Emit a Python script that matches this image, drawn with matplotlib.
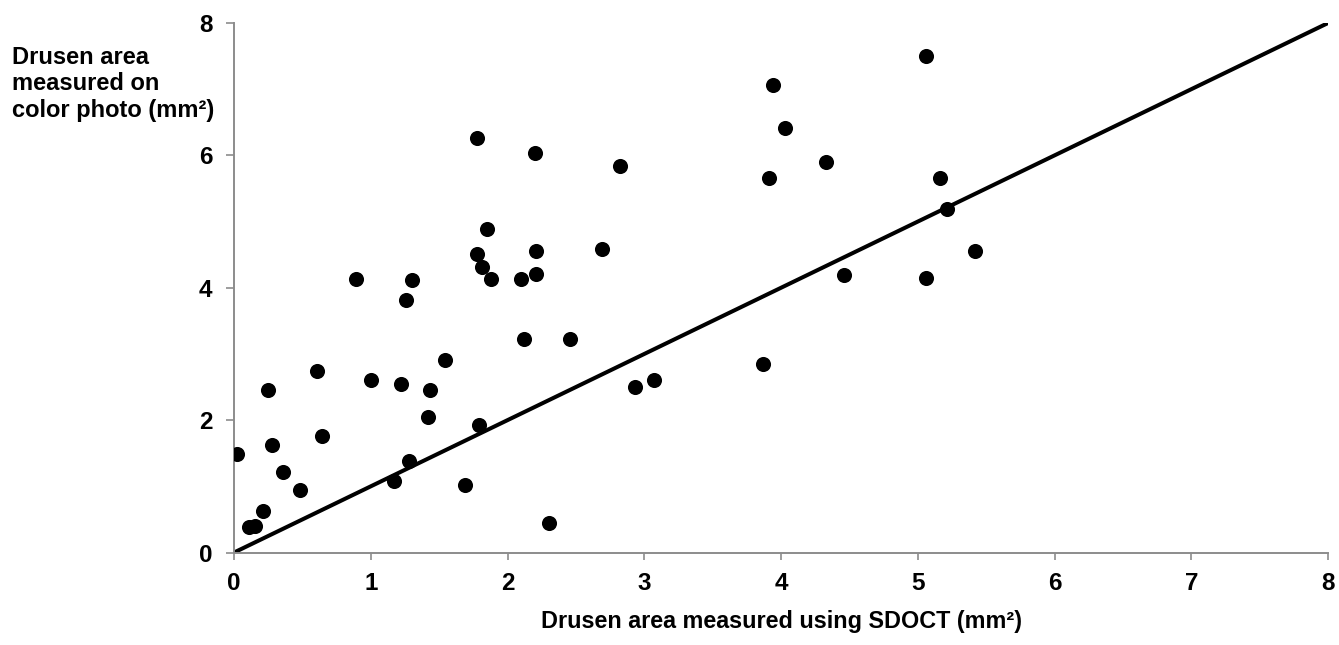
import matplotlib
matplotlib.use("Agg")
import matplotlib.pyplot as plt

# Drusen area: SDOCT (x) vs color photo (y), mm^2
sdoct = [0.02, 0.11, 0.15, 0.21, 0.25, 0.28, 0.36, 0.48, 0.61, 0.64,
         0.89, 1.00, 1.17, 1.22, 1.26, 1.28, 1.30, 1.42, 1.43, 1.54,
         1.69, 1.78, 1.78, 1.79, 1.81, 1.85, 1.88, 2.10, 2.12, 2.20,
         2.21, 2.21, 2.30, 2.46, 2.69, 2.82, 2.93, 3.07, 3.87, 3.91,
         3.94, 4.03, 4.33, 4.46, 5.06, 5.06, 5.16, 5.21, 5.42]
photo = [1.49, 0.39, 0.40, 0.62, 2.45, 1.63, 1.21, 0.94, 2.74, 1.76,
         4.13, 2.60, 1.08, 2.55, 3.82, 1.39, 4.11, 2.04, 2.45, 2.91,
         1.02, 6.26, 4.51, 1.92, 4.31, 4.89, 4.13, 4.13, 3.22, 6.04,
         4.55, 4.21, 0.44, 3.22, 4.58, 5.84, 2.50, 2.60, 2.85, 5.66,
         7.06, 6.42, 5.90, 4.20, 7.50, 4.15, 5.66, 5.19, 4.55]

identity = [0, 8]
ticks = [0, 1, 2, 3, 4, 5, 6, 7, 8]
yticks = [0, 2, 4, 6, 8]

plt.rcParams['font.family'] = ['Liberation Sans', 'DejaVu Sans']
plt.rcParams['font.weight'] = 'bold'

fig = plt.figure(figsize=(13.39, 6.45), dpi=100)
ax = fig.add_axes([0.1748, 0.1434, 0.8170, 0.8209])

ax.plot(identity, identity, color='black', linewidth=2.9, zorder=2)
ax.scatter(sdoct, photo, s=118, color='black', zorder=3, linewidths=0)

ax.set_xlim(0, 8)
ax.set_ylim(0, 8)
ax.set_xticks(ticks)
ax.set_yticks(yticks)
ax.set_xticklabels([str(t) for t in ticks], fontsize=17.5, fontweight='bold')
ax.set_yticklabels([str(t) for t in yticks], fontsize=17.5, fontweight='bold')

for side in ['top', 'right']:
    ax.spines[side].set_visible(False)
for side in ['left', 'bottom']:
    ax.spines[side].set_color('#8c8c8c')
    ax.spines[side].set_linewidth(1.4)
ax.tick_params(axis='x', direction='out', length=5, width=1.2, color='#8c8c8c', pad=9)
ax.tick_params(axis='y', direction='out', length=5.5, width=1.2, color='#8c8c8c', pad=10)

fig.text(0.5835, 0.026, 'Drusen area measured using SDOCT (mm²)', ha='center',
         va='baseline', fontsize=16.8, fontweight='bold')
fig.text(0.009, 0.8186, 'Drusen area\nmeasured on\ncolor photo (mm²)', ha='left',
         va='baseline', fontsize=17, fontweight='bold', linespacing=1.2)

fig.savefig('out.png', dpi=100)
